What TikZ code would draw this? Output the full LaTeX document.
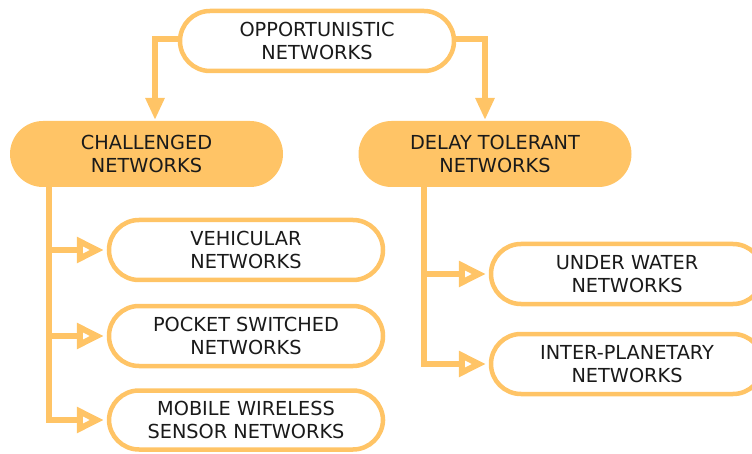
\documentclass[tikz,border=0pt]{standalone}
\usepackage{fontspec}
\setmainfont{DejaVu Sans}
\usetikzlibrary{arrows.meta}
\definecolor{orng}{HTML}{FFC466}
\definecolor{txt}{HTML}{1A1A1A}
\begin{document}
\begin{tikzpicture}[x=1pt,y=-1pt,
  box/.style={draw=orng, line width=4.5pt, fill=white, rounded corners=30pt,
    minimum width=#1, minimum height=60pt, inner sep=0pt, align=center,
    text=txt, font=\fontsize{19.3}{23.5}\selectfont},
  box/.default=274pt,
  fbox/.style={fill=orng, draw=none, rounded corners=33pt,
    minimum width=273pt, minimum height=66pt, inner sep=0pt, align=center,
    text=txt, font=\fontsize{19.3}{23.5}\selectfont},
  conn/.style={draw=orng, line width=6pt, line join=miter},
  downarr/.style={conn, -{Triangle[length=22pt,width=18pt]}},
  openarr/.style={conn, -{Triangle[open,fill=white,length=27pt,width=25pt]}}
]
\useasboundingbox (0,0) rectangle (752,454);

\node[box=274pt] (op) at (317,41) {OPPORTUNISTIC\\NETWORKS};
\node[fbox] (ch) at (146.5,154) {CHALLENGED\\NETWORKS};
\node[fbox] (dt) at (495,154) {DELAY TOLERANT\\NETWORKS};

\node[box=274pt, minimum height=60pt] (vh) at (246,250) {VEHICULAR\\NETWORKS};
\node[box=274pt, minimum height=60pt] (ps) at (246,336) {POCKET SWITCHED\\NETWORKS};
\node[box=274pt, minimum height=59pt] (mw) at (246,420) {MOBILE WIRELESS\\SENSOR NETWORKS};

\node[box=272pt, minimum height=60pt] (uw) at (627,274) {UNDER WATER\\NETWORKS};
\node[box=272pt, minimum height=60pt] (ip) at (627,364) {INTER-PLANETARY\\NETWORKS};

% top arrows
\coordinate (tl) at (155,120);
\coordinate (tr) at (485,120);
\draw[downarr] ([yshift=2pt]op.west) -| (tl);
\draw[downarr] ([yshift=2pt]op.east) -| (tr);

% challenged spine
\coordinate (cs) at (49,186);
\draw[openarr] (cs) |- ([xshift=-3pt]mw.west);
\draw[openarr] (cs |- vh.west) -- ([xshift=-3pt]vh.west);
\draw[openarr] (cs |- ps.west) -- ([xshift=-3pt]ps.west);

% delay tolerant spine
\coordinate (ds) at (424,186);
\draw[openarr] (ds) |- ([xshift=-3pt]ip.west);
\draw[openarr] (ds |- uw.west) -- ([xshift=-3pt]uw.west);
\end{tikzpicture}
\end{document}
